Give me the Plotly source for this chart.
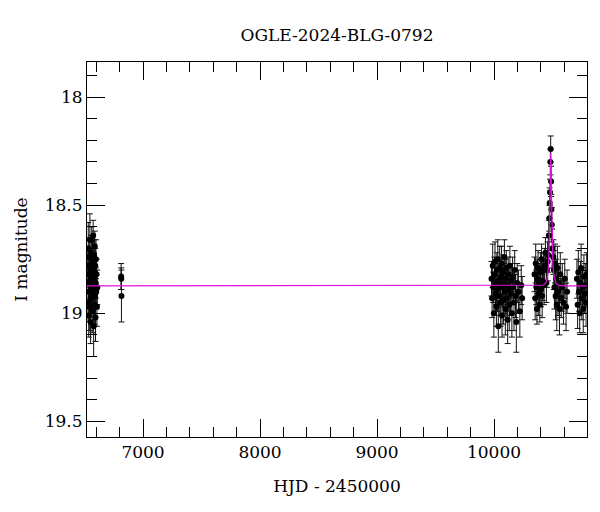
import plotly.graph_objects as go

# OGLE photometry: HJD - 2450000, I magnitude, error
hjd_2013 = [6527.9, 6529.8, 6531.7, 6533.9, 6535.8, 6537.7, 6539.8, 6541.9, 6543.7, 6545.8,
            6547.9, 6549.7, 6551.8, 6553.9, 6555.7, 6557.8, 6559.9, 6561.7, 6563.8, 6565.9,
            6567.7, 6569.8, 6571.9, 6573.7, 6575.8, 6577.9, 6579.7, 6581.8, 6583.9, 6585.7,
            6587.8, 6589.9, 6591.7, 6593.8, 6595.9, 6597.7, 6599.8, 6602.9, 6605.7, 6608.8]
mag_2013 = [18.78, 18.95, 18.70, 18.86, 19.01, 18.82, 18.74, 18.90, 18.97, 18.66,
            18.85, 18.79, 19.04, 18.88, 18.72, 18.93, 18.81, 18.66, 18.89, 18.99,
            18.76, 18.84, 18.91, 18.64, 18.87, 19.06, 18.80, 18.73, 18.96, 18.83,
            18.69, 18.92, 18.78, 19.02, 18.86, 18.75, 18.90, 18.82, 18.97, 18.88]
err_2013 = [0.07, 0.09, 0.12, 0.08, 0.10, 0.07, 0.09, 0.08, 0.11, 0.12,
            0.08, 0.09, 0.10, 0.07, 0.08, 0.09, 0.07, 0.06, 0.08, 0.10,
            0.09, 0.07, 0.08, 0.07, 0.09, 0.14, 0.08, 0.07, 0.09, 0.08,
            0.07, 0.10, 0.08, 0.11, 0.07, 0.09, 0.08, 0.07, 0.09, 0.08]

hjd_2014 = [6812.6, 6813.6, 6815.5]
mag_2014 = [18.83, 18.84, 18.92]
err_2014 = [0.06, 0.05, 0.12]

hjd_2023 = [9978.9, 9983.8, 9988.9, 9993.7, 9998.8, 10003.9, 10008.7, 10012.8, 10016.9, 10020.7,
            10024.8, 10028.9, 10032.7, 10036.8, 10040.9, 10044.7, 10048.8, 10052.9, 10056.7, 10060.8,
            10064.9, 10068.7, 10072.8, 10076.9, 10080.7, 10084.8, 10088.9, 10092.7, 10096.8, 10100.9,
            10104.7, 10108.8, 10112.9, 10116.7, 10120.8, 10125.9, 10130.7, 10135.8, 10140.9, 10146.7,
            10152.8, 10158.9, 10164.7, 10170.8, 10176.9, 10183.7, 10190.8, 10198.9, 10208.7, 10220.8,
            10232.9, 10240.7]
mag_2023 = [18.84, 18.93, 18.78, 18.88, 19.00, 18.82, 18.76, 18.91, 18.86, 18.97,
            18.80, 18.89, 18.75, 19.06, 18.85, 18.92, 18.79, 18.87, 18.95, 18.83,
            18.77, 19.01, 18.88, 18.81, 18.94, 18.86, 18.74, 18.90, 18.98, 18.84,
            18.79, 18.93, 18.87, 19.03, 18.82, 18.89, 18.96, 18.78, 18.91, 18.85,
            19.00, 18.83, 18.88, 18.95, 18.80, 18.92, 19.04, 18.86, 18.90, 18.99,
            18.87, 18.93]
err_2023 = [0.08, 0.09, 0.10, 0.07, 0.11, 0.08, 0.09, 0.08, 0.10, 0.09,
            0.08, 0.10, 0.09, 0.12, 0.08, 0.09, 0.10, 0.08, 0.11, 0.09,
            0.08, 0.10, 0.09, 0.08, 0.11, 0.09, 0.08, 0.10, 0.12, 0.09,
            0.08, 0.10, 0.09, 0.11, 0.08, 0.10, 0.12, 0.09, 0.10, 0.08,
            0.11, 0.09, 0.08, 0.13, 0.09, 0.10, 0.14, 0.09, 0.10, 0.12,
            0.09, 0.10]

hjd_2024 = [10346.8, 10351.9, 10356.7, 10361.8, 10366.9, 10371.7, 10376.8, 10381.9, 10386.7, 10391.8,
            10396.9, 10401.7, 10406.8, 10411.9, 10416.7, 10421.8, 10427.9, 10433.7, 10439.8, 10447.8,
            10452.7, 10458.8, 10463.7, 10468.8, 10472.7, 10475.8, 10478.7, 10481.8, 10484.7, 10487.8,
            10490.7, 10493.8, 10497.7, 10506.8, 10511.7, 10516.8, 10521.7, 10526.8, 10531.7, 10536.8,
            10541.7, 10547.8, 10553.7, 10559.8, 10566.7, 10574.8, 10583.7, 10593.8, 10604.7, 10615.8,
            10624.7, 10708.8, 10714.7, 10720.8, 10726.7, 10732.8, 10738.7, 10744.8, 10750.7, 10756.8,
            10762.7, 10768.8, 10774.7, 10780.8, 10786.7, 10792.8]
mag_2024 = [18.82, 18.93, 18.77, 18.88, 18.98, 18.84, 18.79, 18.91, 18.86, 18.96,
            18.81, 18.89, 18.75, 18.92, 18.85, 18.80, 18.87, 18.78, 18.72, 18.86,
            18.80, 18.76, 18.73, 18.64, 18.56, 18.49, 18.44, 18.30, 18.24, 18.39,
            18.52, 18.59, 18.70, 18.74, 18.80, 18.88, 18.77, 18.92, 18.84, 18.96,
            18.79, 18.90, 18.86, 18.98, 18.82, 18.93, 18.88, 18.95, 18.84, 18.97,
            18.90, 18.84, 18.96, 18.81, 18.90, 19.00, 18.86, 18.79, 18.93, 18.88,
            18.98, 18.83, 18.91, 18.87, 18.95, 18.82]
err_2024 = [0.08, 0.10, 0.09, 0.08, 0.07, 0.09, 0.08, 0.10, 0.09, 0.08,
            0.09, 0.08, 0.07, 0.10, 0.09, 0.08, 0.09, 0.08, 0.07, 0.09,
            0.08, 0.09, 0.08, 0.07, 0.06, 0.07, 0.06, 0.06, 0.06, 0.07,
            0.07, 0.08, 0.09, 0.08, 0.09, 0.10, 0.09, 0.11, 0.09, 0.12,
            0.10, 0.11, 0.09, 0.12, 0.10, 0.09, 0.11, 0.10, 0.09, 0.11,
            0.10, 0.09, 0.11, 0.10, 0.09, 0.09, 0.10, 0.11, 0.10, 0.09,
            0.11, 0.10, 0.09, 0.10, 0.11, 0.10]

# microlensing model curve
model_hjd = [6521, 10380, 10420, 10440, 10450, 10460, 10466, 10471, 10475, 10479, 10482,
             10485, 10488, 10491, 10495, 10499, 10504, 10510, 10520, 10530, 10550, 10600, 10800]
model_mag = [18.873, 18.873, 18.870, 18.862, 18.85, 18.82, 18.78, 18.70, 18.58, 18.44, 18.33,
             18.26, 18.33, 18.44, 18.58, 18.70, 18.78, 18.82, 18.85, 18.862, 18.870, 18.873, 18.873]

hjd = hjd_2013 + hjd_2014 + hjd_2023 + hjd_2024
mag = mag_2013 + mag_2014 + mag_2023 + mag_2024
err = err_2013 + err_2014 + err_2023 + err_2024

serif = "DejaVu Serif"

fig = go.Figure()
fig.add_trace(go.Scatter(
    x=hjd, y=mag, mode="markers",
    marker=dict(color="black", size=6),
    error_y=dict(type="data", array=err, color="#111111", thickness=1, width=3),
    showlegend=False,
))
fig.add_trace(go.Scatter(
    x=model_hjd, y=model_mag, mode="lines",
    line=dict(color="#e010e0", width=1.2),
    showlegend=False,
))

axis_common = dict(
    showline=True, linecolor="black", linewidth=1, mirror="allticks",
    ticks="inside", tickcolor="black", showgrid=False, zeroline=False, automargin=False,
    tickfont=dict(family=serif, size=17, color="black"),
)

fig.update_xaxes(
    range=[6521, 10795], dtick=1000, tick0=0, ticklen=18, tickformat="d",
    minor=dict(dtick=200, ticklen=10, ticks="inside", tickcolor="black"),
    title=dict(text="HJD - 2450000", font=dict(family=serif, size=17, color="black"), standoff=18),
    **axis_common,
)
fig.update_yaxes(
    range=[19.572, 17.838], dtick=0.5, tick0=0, ticklen=18,
    minor=dict(dtick=0.1, ticklen=10, ticks="inside", tickcolor="black"),
    title=dict(text="I magnitude", font=dict(family=serif, size=17, color="black"), standoff=12),
    **axis_common,
)

# the page adds an 8px body margin, so the figure is drawn 8px smaller and offset
fig.update_layout(
    width=592, height=504,
    margin=dict(l=79, r=13, t=54, b=75),
    paper_bgcolor="white", plot_bgcolor="white",
    title=dict(text="OGLE-2024-BLG-0792", x=0.5, xref="paper", xanchor="center",
               y=1 - 27 / 504, yref="container", yanchor="middle",
               font=dict(family=serif, size=17, color="black")),
)

fig.write_html("out.html")
